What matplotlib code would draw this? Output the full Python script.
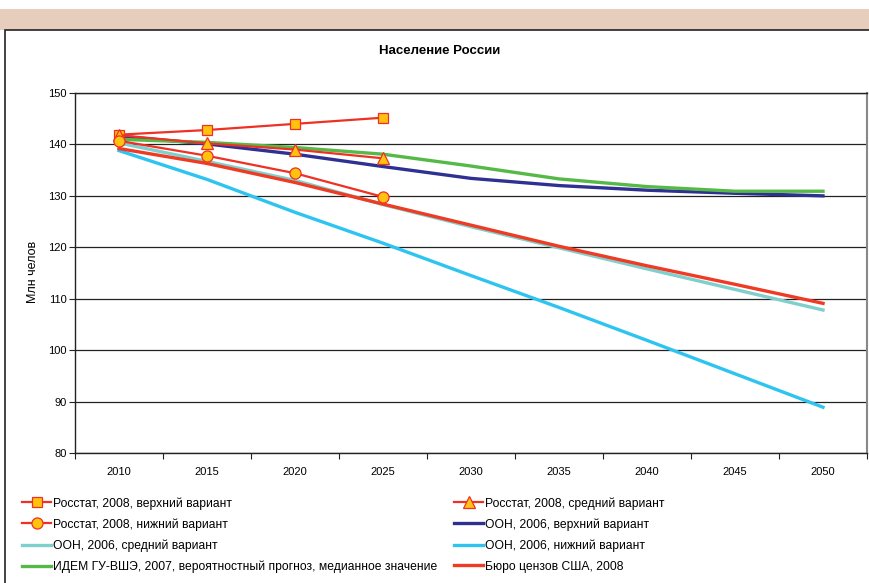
import matplotlib
matplotlib.use('Agg')
import matplotlib.pyplot as plt
from matplotlib.patches import Rectangle
from matplotlib.lines import Line2D

plt.rcParams['font.family'] = ['Liberation Sans', 'DejaVu Sans']

years = ['2010', '2015', '2020', '2025', '2030', '2035', '2040', '2045', '2050']

rosstat_high = [141.9, 142.8, 144.0, 145.2]
rosstat_mid = [141.8, 140.2, 139.0, 137.3]
rosstat_low = [140.7, 137.8, 134.4, 129.8]
un_high = [141.6, 140.1, 138.1, 135.7, 133.4, 132.0, 131.1, 130.5, 130.0]
un_mid = [140.3, 136.7, 133.0, 128.3, 124.0, 119.9, 115.8, 111.8, 107.8]
un_low = [138.8, 133.2, 126.8, 120.8, 114.5, 108.3, 101.9, 95.4, 88.9]
idem = [141.0, 140.4, 139.4, 138.1, 135.8, 133.3, 131.8, 130.9, 130.9]
census = [139.2, 136.3, 132.6, 128.4, 124.3, 120.2, 116.4, 112.8, 109.1]

labels = ['Росстат, 2008, верхний вариант', 'Росстат, 2008, средний вариант',
          'Росстат, 2008, нижний вариант', 'ООН, 2006, верхний вариант',
          'ООН, 2006, средний вариант', 'ООН, 2006, нижний вариант',
          'ИДЕМ ГУ-ВШЭ, 2007, вероятностный прогноз, медианное значение',
          'Бюро цензов США, 2008']

W, H = 869, 583
fig = plt.figure(figsize=(W / 100, H / 100), dpi=100)
fig.patch.set_facecolor('white')

# beige band and white panel behind the chart
fig.patches.append(Rectangle((0, 1 - 30 / H), 1, 21 / H, transform=fig.transFigure,
                             facecolor='#e6cdbc', edgecolor='none', zorder=-2))
fig.patches.append(Rectangle((5 / W, -0.05), 1.0, 1 - 30 / H + 0.05, transform=fig.transFigure,
                             facecolor='white', edgecolor='#222222', linewidth=1.2, zorder=-1))

ax = fig.add_axes([75 / W, 1 - 453 / H, (867 - 75) / W, (453 - 93) / H])
ax.set_facecolor('white')

x = list(range(len(years)))
red = '#ee3124'
gold = '#ffc20e'

ax.plot(x, un_high, color='#2e3192', lw=2.4, zorder=3)
ax.plot(x, un_mid, color='#7fcfcc', lw=2.4, zorder=3)
ax.plot(x, un_low, color='#2ec4f0', lw=2.4, zorder=3)
ax.plot(x, idem, color='#56b947', lw=2.4, zorder=3)
ax.plot(x, census, color='#ef3b24', lw=2.4, zorder=4)

ax.plot(x[:4], rosstat_high, color=red, lw=1.6, marker='s', ms=7,
        mfc=gold, mec=red, mew=0.9, zorder=5)
ax.plot(x[:4], rosstat_mid, color=red, lw=1.6, marker='^', ms=8,
        mfc=gold, mec=red, mew=0.9, zorder=5)
ax.plot(x[:4], rosstat_low, color=red, lw=1.6, marker='o', ms=8,
        mfc=gold, mec=red, mew=0.9, zorder=5)

ax.set_xlim(-0.5, len(years) - 0.5)
ax.set_ylim(80, 150)
ax.set_yticks(range(80, 151, 10))
ax.yaxis.grid(True, color='#222222', lw=0.9)
ax.set_axisbelow(True)

ax.set_xticks([i - 0.5 for i in range(len(years) + 1)])
ax.set_xticklabels([])
ax.set_xticks(x, minor=True)
ax.set_xticklabels(years, minor=True)
ax.tick_params(axis='x', which='minor', length=0, pad=10, labelsize=8)
ax.tick_params(axis='x', which='major', length=4, width=0.8, color='#222222')
ax.tick_params(axis='y', length=4, width=0.8, color='#222222', labelsize=8, pad=2)

for side in ['left', 'bottom', 'top']:
    ax.spines[side].set_color('#222222')
    ax.spines[side].set_linewidth(1.0)
ax.spines['right'].set_color('#888888')
ax.spines['right'].set_linewidth(1.5)

fig.text(440 / W, 1 - 51 / H, 'Население России', ha='center', va='center',
         fontsize=9.5, fontweight='bold')
fig.text(33 / W, 1 - 272 / H, 'Млн челов', ha='center', va='center',
         rotation=90, fontsize=9)

# legend, two columns filled row by row
def handle(color, lw, marker=None, ms=7):
    if marker:
        return Line2D([], [], color=red, lw=1.6, marker=marker, ms=ms,
                      mfc=gold, mec=red, mew=0.9)
    return Line2D([], [], color=color, lw=lw)

handles = [handle(red, 1.6, 's', 7), handle(red, 1.6, '^', 8),
           handle(red, 1.6, 'o', 8), handle('#2e3192', 2.4),
           handle('#7fcfcc', 2.4), handle('#2ec4f0', 2.4),
           handle('#56b947', 2.4), handle('#ef3b24', 2.4)]

common = dict(loc='upper left', frameon=False, fontsize=8.7, handlelength=2.4,
              handletextpad=0.2, labelspacing=0.72, borderaxespad=0, borderpad=0)
leg1 = fig.legend(handles[0::2], labels[0::2], bbox_to_anchor=(22 / W, 1 - 497 / H), **common)
leg2 = fig.legend(handles[1::2], labels[1::2], bbox_to_anchor=(454 / W, 1 - 497 / H), **common)

fig.savefig('out.png', dpi=100, facecolor=fig.get_facecolor())
